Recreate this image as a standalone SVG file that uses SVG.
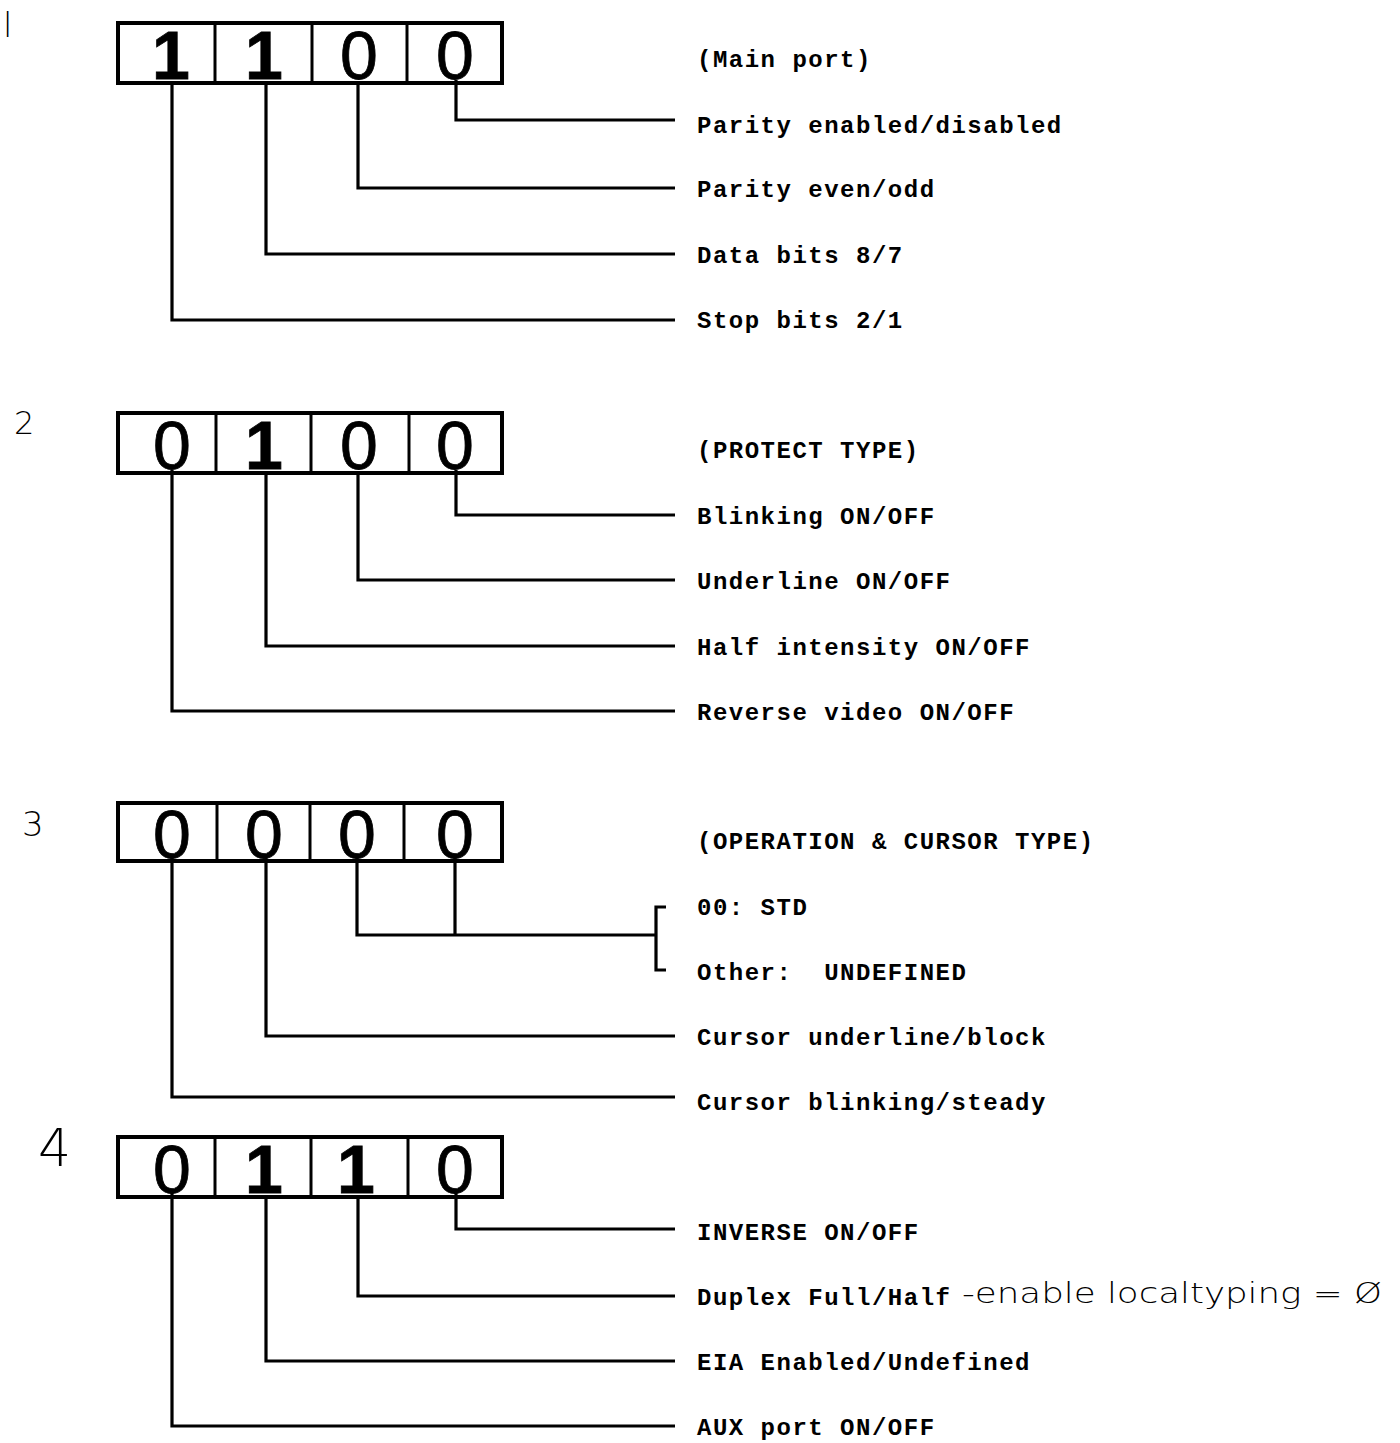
<svg xmlns="http://www.w3.org/2000/svg" width="1400" height="1443" viewBox="0 0 1400 1443">
<style>
.box{fill:none;stroke:#000;stroke-width:4}
.div{stroke:#000;stroke-width:3}
.dg{font-family:"Liberation Sans",Arial,sans-serif;font-size:68px;text-anchor:middle;fill:#000;stroke:#000;stroke-width:0.8}
.one{font-weight:bold}
.lbl{font-family:"Liberation Mono","Courier New",monospace;font-weight:bold;font-size:24px;letter-spacing:1.5px;fill:#000}
.hw{font-family:"DejaVu Sans","Liberation Sans",sans-serif;font-weight:200;fill:#000}
.ln{fill:none;stroke:#000;stroke-width:3.2;stroke-linejoin:miter;stroke-linecap:butt}
</style>
<rect width="1400" height="1443" fill="#fff"/>

<!-- handwritten section numbers -->
<text class="hw" x="3" y="37" font-size="34">l</text>
<text class="hw" x="14" y="434" font-size="32">2</text>
<text class="hw" x="22" y="836" font-size="34">3</text>
<text class="hw" x="38" y="1166" font-size="52">4</text>

<!-- Section 1 -->
<g id="reg1">
<rect class="box" x="118" y="23" width="384" height="60"/>
<line class="div" x1="215" y1="23" x2="215" y2="83"/>
<line class="div" x1="312" y1="23" x2="312" y2="83"/>
<line class="div" x1="407" y1="23" x2="407" y2="83"/>
<text class="dg one" x="171" y="79">1</text>
<text class="dg one" x="264" y="79">1</text>
<text class="dg" x="359" y="79">0</text>
<text class="dg" x="455" y="79">0</text>
</g>
<g id="labels1">
<text class="lbl" x="697" y="67">(Main port)</text>
<text class="lbl" x="697" y="133">Parity enabled/disabled</text>
<text class="lbl" x="697" y="197">Parity even/odd</text>
<text class="lbl" x="697" y="263">Data bits 8/7</text>
<text class="lbl" x="697" y="328">Stop bits 2/1</text>
</g>

<!-- Section 2 -->
<g id="reg2">
<rect class="box" x="118" y="413" width="384" height="60"/>
<line class="div" x1="216" y1="413" x2="216" y2="473"/>
<line class="div" x1="311" y1="413" x2="311" y2="473"/>
<line class="div" x1="409" y1="413" x2="409" y2="473"/>
<text class="dg" x="172" y="469">0</text>
<text class="dg one" x="264" y="469">1</text>
<text class="dg" x="359" y="469">0</text>
<text class="dg" x="455" y="469">0</text>
</g>
<g id="labels2">
<text class="lbl" x="697" y="458">(PROTECT TYPE)</text>
<text class="lbl" x="697" y="524">Blinking ON/OFF</text>
<text class="lbl" x="697" y="589">Underline ON/OFF</text>
<text class="lbl" x="697" y="655">Half intensity ON/OFF</text>
<text class="lbl" x="697" y="720">Reverse video ON/OFF</text>
</g>

<!-- Section 3 -->
<g id="reg3">
<rect class="box" x="118" y="803" width="384" height="58"/>
<line class="div" x1="217" y1="803" x2="217" y2="861"/>
<line class="div" x1="310" y1="803" x2="310" y2="861"/>
<line class="div" x1="404" y1="803" x2="404" y2="861"/>
<text class="dg" x="172" y="858">0</text>
<text class="dg" x="264" y="858">0</text>
<text class="dg" x="357" y="858">0</text>
<text class="dg" x="455" y="858">0</text>
</g>
<g id="labels3">
<text class="lbl" x="697" y="849">(OPERATION &amp; CURSOR TYPE)</text>
<text class="lbl" x="697" y="915">00: STD</text>
<text class="lbl" x="697" y="980" xml:space="preserve">Other:  UNDEFINED</text>
<text class="lbl" x="697" y="1045">Cursor underline/block</text>
<text class="lbl" x="697" y="1110">Cursor blinking/steady</text>
</g>

<!-- Section 4 -->
<g id="reg4">
<rect class="box" x="118" y="1137" width="384" height="60"/>
<line class="div" x1="215" y1="1137" x2="215" y2="1197"/>
<line class="div" x1="311" y1="1137" x2="311" y2="1197"/>
<line class="div" x1="408" y1="1137" x2="408" y2="1197"/>
<text class="dg" x="172" y="1193">0</text>
<text class="dg one" x="264" y="1193">1</text>
<text class="dg one" x="356" y="1193">1</text>
<text class="dg" x="455" y="1193">0</text>
</g>
<g id="labels4">
<text class="lbl" x="697" y="1240">INVERSE ON/OFF</text>
<text class="lbl" x="697" y="1305">Duplex Full/Half</text>
<text class="hw" x="962" y="1303" font-size="28" textLength="420" lengthAdjust="spacingAndGlyphs">-enable localtyping = Ø</text>
<text class="lbl" x="697" y="1370">EIA Enabled/Undefined</text>
<text class="lbl" x="697" y="1435">AUX port ON/OFF</text>
</g>

<!-- connectors -->
<g id="connectors">
<path class="ln" d="M456 80 V120 H675"/>
<path class="ln" d="M358 84 V188 H675"/>
<path class="ln" d="M266 84 V254 H675"/>
<path class="ln" d="M172 84 V320 H675"/>

<path class="ln" d="M456 470 V515 H675"/>
<path class="ln" d="M358 474 V580 H675"/>
<path class="ln" d="M266 474 V646 H675"/>
<path class="ln" d="M172 470 V711 H675"/>

<path class="ln" d="M357 858 V935 H656"/>
<path class="ln" d="M455 858 V935"/>
<path class="ln" d="M666 907 H656 V970 H666"/>
<path class="ln" d="M266 858 V1036 H675"/>
<path class="ln" d="M172 858 V1097 H675"/>

<path class="ln" d="M456 1193 V1229 H675"/>
<path class="ln" d="M358 1198 V1296 H675"/>
<path class="ln" d="M266 1198 V1361 H675"/>
<path class="ln" d="M172 1193 V1426 H675"/>
</g>
</svg>
